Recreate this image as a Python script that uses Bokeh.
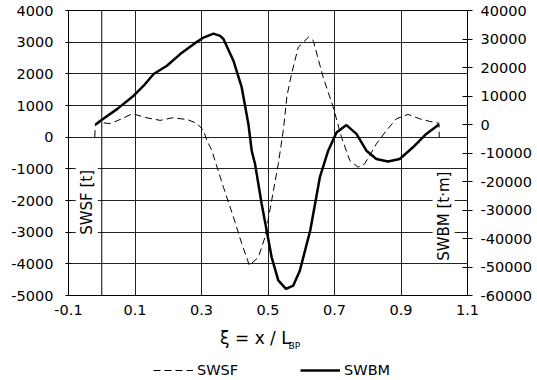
import math
from bokeh.plotting import figure
from bokeh.layouts import column
from bokeh.models import (LinearAxis, Range1d, FixedTicker, Span, Label,
                          Legend, LegendItem)
from bokeh.core.properties import value
from bokeh.embed import file_html
from bokeh.resources import INLINE

# ---- data ----
x_ticks = [-0.1, 0.1, 0.3, 0.5, 0.7, 0.9, 1.1]
sf_ticks = [-5000, -4000, -3000, -2000, -1000, 0, 1000, 2000, 3000, 4000]
bm_ticks = [-60000, -50000, -40000, -30000, -20000, -10000, 0, 10000, 20000, 30000, 40000]

x_swsf = [-0.021, -0.019, -0.004, 0.026, 0.060, 0.092, 0.136, 0.176, 0.211, 0.256,
          0.286, 0.306, 0.316, 0.331, 0.366, 0.396, 0.421, 0.444, 0.471, 0.491,
          0.511, 0.531, 0.546, 0.557, 0.571, 0.591, 0.622, 0.636, 0.666, 0.696,
          0.721, 0.746, 0.771, 0.791, 0.826, 0.856, 0.886, 0.921, 0.956, 0.986,
          1.014, 1.015]
swsf = [0, 430, 460, 430, 580, 740, 610, 530, 610, 560,
        440, 210, -100, -420, -1580, -2520, -3360, -4050, -3790, -3160,
        -2000, -840, 210, 1300, 2000, 2840, 3160, 3050, 1890, 950,
        0, -735, -950, -840, -210, 210, 580, 720, 580, 500,
        440, 0]

x_swbm = [-0.018, -0.004, 0.046, 0.096, 0.126, 0.156, 0.196, 0.236, 0.276, 0.306,
          0.336, 0.356, 0.366, 0.396, 0.421, 0.441, 0.451, 0.461, 0.481, 0.496,
          0.511, 0.531, 0.554, 0.576, 0.596, 0.627, 0.656, 0.681, 0.706, 0.736,
          0.766, 0.796, 0.826, 0.861, 0.896, 0.936, 0.976, 1.014]
swbm = [0, 1300, 5400, 10100, 13600, 17700, 20600, 24700, 28200, 30500,
        31900, 31100, 30000, 22400, 13000, 200, -9200, -13800, -27900, -37200,
        -46600, -54700, -57700, -56500, -51200, -37200, -18500, -9200, -2800, -200,
        -3300, -9200, -12100, -13000, -12100, -8000, -3300, 0]

series_names = ["SWSF", "SWBM"]
x_title = "ξ = x / L"
x_title_sub = "BP"

FONT = "DejaVu Sans"
DASH = "7 4"

xr = Range1d(-0.1, 1.1)

p = figure(width=537, height=325, x_range=xr,
           y_range=Range1d(-5000, 4000), output_backend="svg",
           toolbar_location=None, min_border_left=68, min_border_right=70,
           min_border_top=10, min_border_bottom=30)
p.extra_y_ranges = {"bm": Range1d(-60000, 40000)}
p.background_fill_color = "white"
p.border_fill_color = "white"
p.outline_line_color = "black"
p.outline_line_width = 1

# x axis
xa = p.xaxis[0]
xa.ticker = FixedTicker(ticks=x_ticks)
xa.major_label_overrides = {t: ("%.1f" % t) for t in x_ticks}
xa.major_tick_out = 0
xa.major_tick_in = 0
xa.minor_tick_out = 0
xa.minor_tick_in = 0
xa.major_label_standoff = 9
xa.major_label_text_font = FONT
xa.major_label_text_font_size = "14.5px"
xa.major_label_text_color = "black"
xa.axis_line_color = "black"

# left axis
ya = p.yaxis[0]
ya.ticker = FixedTicker(ticks=sf_ticks)
ya.major_label_overrides = {t: str(t) for t in sf_ticks}
ya.major_tick_out = 3
ya.major_tick_in = 3
ya.minor_tick_out = 0
ya.minor_tick_in = 0
ya.major_label_standoff = 12
ya.major_label_text_font = FONT
ya.major_label_text_font_size = "14.5px"
ya.major_label_text_color = "black"
ya.axis_line_color = "black"
ya.major_tick_line_color = "black"

# right axis
ra = LinearAxis(y_range_name="bm", ticker=FixedTicker(ticks=bm_ticks))
ra.major_label_overrides = {t: str(t) for t in bm_ticks}
ra.major_tick_out = 5
ra.major_tick_in = 5
ra.minor_tick_out = 0
ra.minor_tick_in = 0
ra.major_label_standoff = 8
ra.major_label_text_font = FONT
ra.major_label_text_font_size = "14.5px"
ra.major_label_text_color = "black"
ra.axis_line_color = "black"
ra.major_tick_line_color = "black"
p.add_layout(ra, "right")

# grids
p.xgrid.ticker = FixedTicker(ticks=x_ticks)
p.ygrid.ticker = FixedTicker(ticks=sf_ticks)
p.xgrid.grid_line_color = "#222222"
p.ygrid.grid_line_color = "#222222"
p.xgrid.grid_line_width = 1
p.ygrid.grid_line_width = 1

p.add_layout(Span(location=0, dimension="height", line_color="black", line_width=1))

# curves
r_sf = p.line(x_swsf, swsf, line_color="black", line_width=1, line_dash=DASH)
r_bm = p.line(x_swbm, swbm, y_range_name="bm", line_color="black", line_width=2.5)

# rotated axis titles inside the frame
p.add_layout(Label(x=-0.045, y=-2060, text="SWSF [t]", angle=math.pi / 2,
                   text_align="center", text_baseline="middle",
                   text_font=FONT, text_font_size="15px", text_color="black",
                   background_fill_color="white", padding=2))
p.add_layout(Label(x=1.028, y=-2496, text="SWBM [t·m]", angle=math.pi / 2,
                   text_align="center", text_baseline="middle",
                   text_font=FONT, text_font_size="15px", text_color="black",
                   background_fill_color="white", padding=2))

# ---- bottom strip: x-axis title and legend ----
p2 = figure(width=537, height=55, x_range=xr, y_range=Range1d(0, 55),
            output_backend="svg", toolbar_location=None,
            min_border_left=68, min_border_right=70,
            min_border_top=0, min_border_bottom=0,
            x_axis_type=None, y_axis_type=None)
p2.outline_line_color = None
p2.background_fill_color = "white"
p2.border_fill_color = "white"

p2.text(x=[0.356], y=[43], text=[x_title], text_font=value(FONT),
        text_font_size="17px", text_baseline="middle", text_align="left",
        text_color="black")
p2.text(x=[0.562], y=[35], text=[x_title_sub], text_font=value(FONT),
        text_font_size="9px", text_baseline="middle", text_align="left",
        text_color="black")

# hidden copies of the series, used only for the legend swatches
d_sf = p2.line(x_swsf, swsf, line_color="black", line_width=1, line_dash=DASH,
               visible=False)
d_bm = p2.line(x_swbm, swbm, line_color="black", line_width=2.5, visible=False)
legend = Legend(items=[LegendItem(label=series_names[0], renderers=[d_sf]),
                       LegendItem(label=series_names[1], renderers=[d_bm])],
                orientation="horizontal", location=(85, 2),
                glyph_width=40, glyph_height=16, label_standoff=4,
                spacing=62, padding=0, margin=0,
                border_line_alpha=0, background_fill_alpha=0,
                label_text_font=FONT, label_text_font_size="14.5px",
                label_text_color="black")
p2.add_layout(legend)

layout = column(p, p2, spacing=0)
open("out.html", "w").write(file_html(layout, INLINE))
